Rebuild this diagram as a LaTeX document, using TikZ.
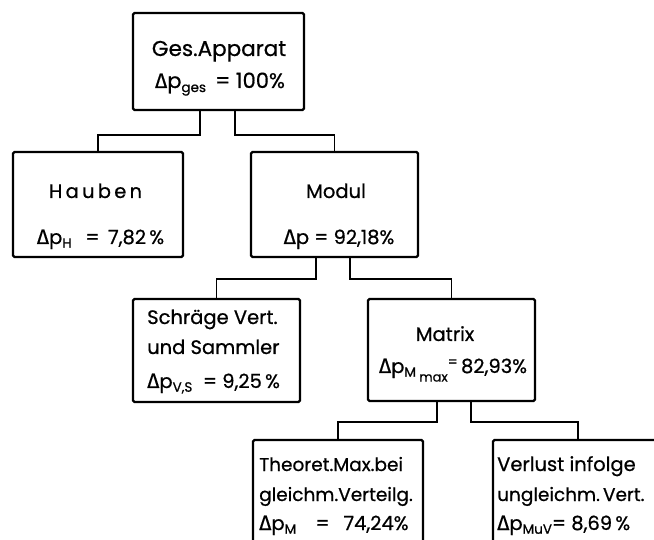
\documentclass[tikz,border=0pt]{standalone}
\usepackage{fontspec}
\setmainfont{Poppins}[FakeBold=0.7]
\newfontfamily\greekfont{Fira Sans}[FakeBold=0.5]
\newcommand{\Dlt}{{\greekfont\fontsize{21}{21}\selectfont Δ}}
\newcommand{\lowsub}[1]{\raisebox{-0.35ex}{\fontsize{13.5}{13.5}\selectfont #1}}
\begin{document}
\begin{tikzpicture}[x=1pt,y=-1pt,
  box/.style={draw,line width=2.2pt,rounded corners=1.5pt,inner sep=0pt},
  conn/.style={line width=1.7pt},
  txt/.style={inner sep=0pt,font=\fontsize{19.5}{19.5}\selectfont},
  ltxt/.style={txt,anchor=base west},
  ctxt/.style={txt,anchor=base}]
\useasboundingbox (0,0) rectangle (654,540);
\clip (0,0) rectangle (654,540);

% boxes of the pressure-loss tree
\node[box,minimum width=171pt,minimum height=97pt]  (top)     at (218.5,61.5) {};
\node[box,minimum width=170pt,minimum height=105pt] (hauben)  at (98,204.5) {};
\node[box,minimum width=167pt,minimum height=105pt] (modul)   at (334.5,204.5) {};
\node[box,minimum width=167pt,minimum height=103pt] (schraege) at (216.5,350.5) {};
\node[box,minimum width=167pt,minimum height=102pt] (matrix)  at (451.5,350) {};
\node[box,minimum width=170pt,minimum height=130pt] (theoret) at (338,505) {};
\node[box,minimum width=170pt,minimum height=130pt] (verlust) at (578,505) {};

% texts
\node[ctxt,font=\fontsize{21.5}{21.5}\selectfont] (topA) at (219,56) {Ges.Apparat};
\node[ctxt,font=\fontsize{21}{21}\selectfont] (topB) at (220,88) {\Dlt p\lowsub{ges}\, = 100\%};

\node[ctxt] (haubA) at (95.5,198) {H\,a\,u\,b\,e\,n};
\node[ctxt] (haubB) at (100.5,244) {\Dlt p\lowsub{H}\;\, = \,7,82\,\%};

\node[ctxt] (modA) at (336,198) {Modul};
\node[ctxt] (modB) at (339,244) {\Dlt p = 92,18\%};

\node[ltxt] (schA) at (147,324) {Schräge Vert.};
\node[ltxt] (schB) at (147,354) {und Sammler};
\node[ltxt] (schC) at (147,388) {\Dlt p\lowsub{V,S}\; = 9,25\,\%};

\node[ctxt] (matA) at (445,341) {Matrix};
\node[ctxt] (matB) at (453,373) {\Dlt p\lowsub{M}\,\raisebox{-0.8ex}{\fontsize{13}{13}\selectfont max}\raisebox{0.6ex}{\fontsize{14}{14}\selectfont =}\,82,93\%};

\node[ltxt,font=\fontsize{18.5}{18.5}\selectfont] (thA) at (259,471) {Theoret.Max.bei};
\node[ltxt,font=\fontsize{18.5}{18.5}\selectfont] (thB) at (259,501) {gleichm.Verteilg.};
\node[ltxt] (thC) at (259,530) {\Dlt p\lowsub{M}\;\;\, = \;\,74,24\%};

\node[ltxt] (veA) at (497,471) {Verlust infolge};
\node[ltxt,font=\fontsize{18.5}{18.5}\selectfont] (veB) at (497,501) {ungleichm.\,Vert.};
\node[ltxt] (veC) at (497,530) {\Dlt p\lowsub{MuV}= 8,69\,\%};

% elbow connectors
\draw[conn] ([xshift=-18.5pt]top.south) -- ++(0,24) -| (hauben.north);
\draw[conn] ([xshift=16.5pt]top.south) -- ++(0,24) -| (modul.north);
\draw[conn] ([xshift=-18.5pt]modul.south) -- ++(0,21) -| (schraege.north);
\draw[conn] ([xshift=15.5pt]modul.south) -- ++(0,21) -| (matrix.north);
\draw[conn] ([xshift=-14.5pt]matrix.south) -- ++(0,20) -| (theoret.north);
\draw[conn] ([xshift=19.5pt]matrix.south) -- ++(0,20) -| (verlust.north);
\end{tikzpicture}
\end{document}
